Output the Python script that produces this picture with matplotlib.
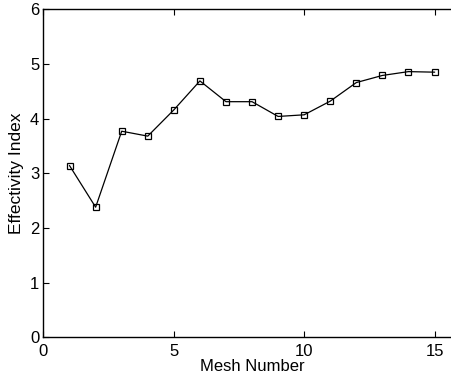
import matplotlib
matplotlib.use("Agg")
import matplotlib.pyplot as plt

mesh_number = [1, 2, 3, 4, 5, 6, 7, 8, 9, 10, 11, 12, 13, 14, 15]
effectivity = [3.14, 2.38, 3.77, 3.68, 4.16, 4.69, 4.31, 4.31, 4.04, 4.07, 4.32, 4.66, 4.79, 4.86, 4.85]
x_ticks = [0, 5, 10, 15]
y_ticks = [0, 1, 2, 3, 4, 5, 6]

plt.rcParams['font.family'] = ['Liberation Sans', 'DejaVu Sans']

W, H = 452, 381
fig = plt.figure(figsize=(W / 100, H / 100), dpi=100)
left, right = 43.5, 460.6
top, bottom = 9.3, 337.3
ax = fig.add_axes([left / W, 1 - bottom / H, (right - left) / W, (bottom - top) / H])

ax.plot(mesh_number, effectivity, color='black', linewidth=0.9,
        marker='s', markersize=4.2, markerfacecolor='none',
        markeredgecolor='black', markeredgewidth=0.9)

ax.set_xlim(0, 16)
ax.set_ylim(0, 6)
ax.set_xticks(x_ticks)
ax.set_yticks(y_ticks)
ax.tick_params(direction='in', top=True, right=True, length=4, width=0.8,
               labelsize=12)
ax.tick_params(axis='x', pad=5)
ax.tick_params(axis='y', pad=3)
for s in ax.spines.values():
    s.set_linewidth(1.0)
ax.set_xlabel('Mesh Number', fontsize=12, labelpad=0)
ax.set_ylabel('Effectivity Index', fontsize=12.5, labelpad=4)

fig.savefig('out.png', dpi=100)
